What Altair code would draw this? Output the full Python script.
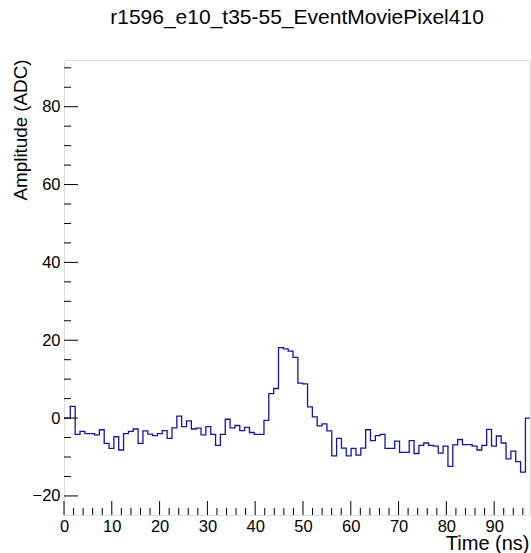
import altair as alt
import pandas as pd

TITLE = "r1596_e10_t35-55_EventMoviePixel410"
X_TITLE = "Time (ns)"
Y_TITLE = "Amplitude (ADC)"

# histogram: first bin edge, bin width (ns), bin contents (ADC)
bin_start = 1.32
bin_width = 1.013
amplitudes = [
    3.0, -4.2, -3.4, -4.0, -4.0, -4.3, -3.0, -6.5, -7.8, -4.8,
    -8.2, -4.0, -3.4, -2.8, -6.5, -3.3, -4.1, -4.5, -4.0, -3.2,
    -5.2, -2.5, 0.5, -2.2, -0.7, -2.8, -2.6, -4.3, -2.2, -4.2,
    -7.0, -4.2, -0.3, -2.5, -1.9, -3.2, -2.4, -3.7, -4.2, -4.2,
    -0.6, 6.3, 7.6, 18.1, 17.8, 17.2, 15.6, 9.0, 8.8, 2.9,
    0.3, -2.0, -1.5, -3.3, -9.7, -5.2, -7.7, -9.7, -7.8, -9.5,
    -7.7, -3.0, -5.8, -4.5, -4.2, -7.8, -7.8, -5.9, -8.8, -8.8,
    -5.8, -9.1, -7.0, -6.4, -7.0, -7.2, -9.0, -7.2, -12.4, -6.9,
    -5.5, -6.8, -6.8, -7.2, -8.2, -7.0, -2.9, -7.2, -4.6, -6.4,
    -10.5, -8.5, -11.2, -13.9,
]

x_range = [0, 97.5]
y_range = [-24.9, 92.0]
x_major = [0, 10, 20, 30, 40, 50, 60, 70, 80, 90]
x_minor = [v for v in range(2, 97, 2) if v % 10 != 0]
y_major = [-20, 0, 20, 40, 60, 80]
y_minor = [v for v in range(-20, 91, 5) if v % 20 != 0]

# build step points
xs = [x_range[0]]
ys = [0.0]
for i, a in enumerate(amplitudes):
    xs.append(bin_start + i * bin_width)
    ys.append(a)
end_edge = bin_start + len(amplitudes) * bin_width
xs += [end_edge, x_range[1]]
ys += [0.0, 0.0]
hist = pd.DataFrame({"t": xs, "amp": ys})

W, H = 466, 455
FONT = "Liberation Sans"

xscale = alt.Scale(domain=x_range, nice=False, zero=False)
yscale = alt.Scale(domain=y_range, nice=False, zero=False)

line = alt.Chart(hist).mark_line(
    interpolate="step-after", color="#1414a8", strokeWidth=1.3, clip=True
).encode(
    x=alt.X("t:Q", scale=xscale, title=X_TITLE,
            axis=alt.Axis(values=x_major, ticks=False, domain=False, grid=False,
                          labelFontSize=16.5, labelFont=FONT, labelColor="black",
                          labelPadding=3, labelFlush=False,
                          titleFontSize=20, titleFont=FONT, titleFontWeight="normal",
                          titleColor="black", titleAnchor="end", titleAlign="right",
                          titleX=465, titleY=34, titleBaseline="alphabetic")),
    y=alt.Y("amp:Q", scale=yscale, title=Y_TITLE,
            axis=alt.Axis(values=y_major, ticks=False, domain=False, grid=False,
                          labelFontSize=16.5, labelFont=FONT, labelColor="black",
                          labelPadding=4, labelFlush=False,
                          titleFontSize=18.8, titleFont=FONT, titleFontWeight="normal",
                          titleColor="black", titleAnchor="end", titleAlign="right",
                          titleAngle=270, titleX=-44, titleY=-1, titleBaseline="middle")),
)

def xticks(vals, length):
    return alt.Chart(pd.DataFrame({"v": vals})).mark_rule(color="black", strokeWidth=1).encode(
        x=alt.X("v:Q", scale=xscale),
        y=alt.value(H),
        y2=alt.value(H - length),
    )

def yticks(vals, length):
    return alt.Chart(pd.DataFrame({"v": vals})).mark_rule(color="black", strokeWidth=1).encode(
        y=alt.Y("v:Q", scale=yscale),
        x=alt.value(0),
        x2=alt.value(length),
    )

chart = alt.layer(
    line,
    xticks(x_major, 14), xticks(x_minor, 7),
    yticks(y_major, 14), yticks(y_minor, 7),
).properties(
    width=W, height=H,
    title=alt.TitleParams(text=TITLE, fontSize=21, font=FONT, fontWeight="normal",
                          color="black", anchor="middle", baseline="alphabetic", offset=14),
    autosize=alt.AutoSizeParams(type="none"),
    padding={"left": 64, "top": 60, "right": 1, "bottom": 38},
).configure_view(stroke="black", strokeWidth=1).configure(background="white")

chart.save("out.html", embed_options={"renderer": "svg", "actions": False})
